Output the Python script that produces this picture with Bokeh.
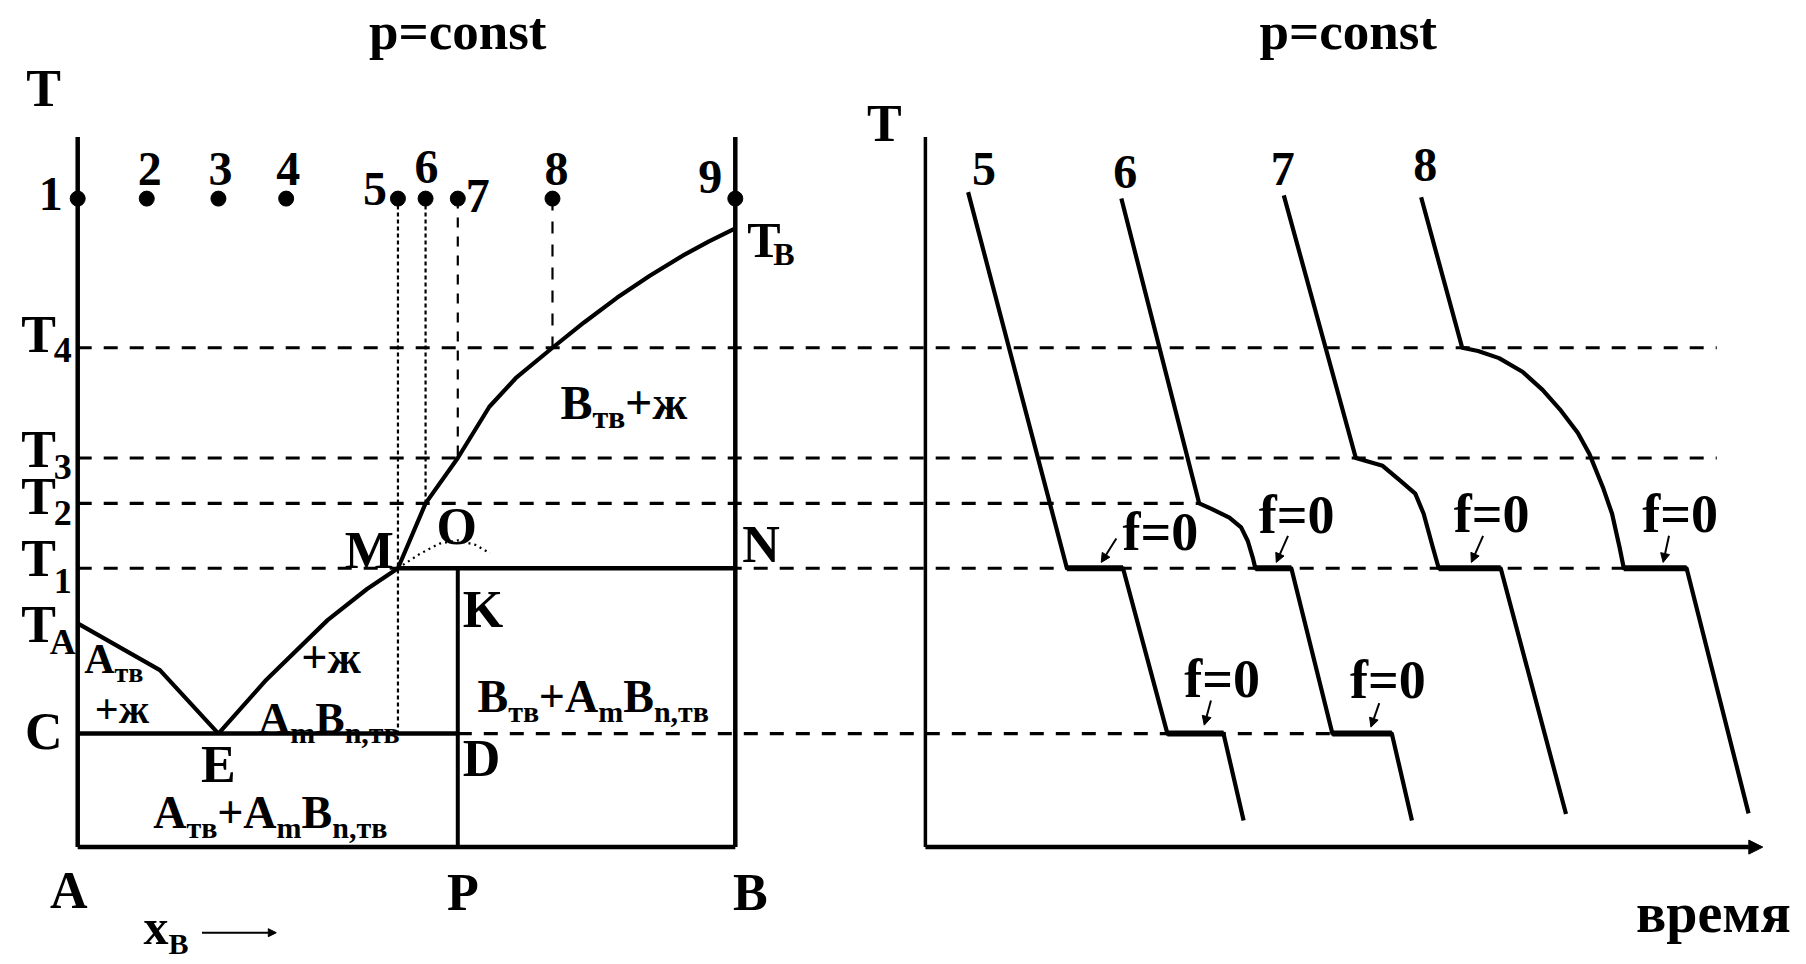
import numpy as np
from bokeh.plotting import figure
from bokeh.models import Range1d, Arrow, NormalHead
from bokeh.core.properties import value
from bokeh.embed import file_html
from bokeh.resources import INLINE

W, H = 1806, 964

# screen anchors of the two panels (px)
PX_A, PX_B = 77.2, 734.8           # x_B = 0 and x_B = 1 of the phase diagram
PX_T0, PX_PER_T = 924.9, 8.374     # origin of the time axis, px per time unit
PY_T0, PY_PER_DEG = 846.6, 6.485   # T = 0 level, px per temperature unit

# ---- temperature levels (arbitrary units) ----
T_TOP = 100.0     # figurative points 1..9
T_AXIS = 109.5    # top of the vertical axes
T_B = 95.4
T4 = 77.0
T3 = 60.0
T2 = 53.0
T1 = 43.0
T_A = 34.5
T_E = 17.5        # eutectic line C-D

# ---- compositions x_B ----
X_E = 0.214
X_M = 0.487
X_P = 0.578       # compound A_mB_n

point_x = [0.0, 0.105, 0.214, 0.317, 0.487, 0.529, 0.578, 0.722, 1.0]
point_names = ["1", "2", "3", "4", "5", "6", "7", "8", "9"]

# liquidus branches
liqA_x = [0.0, 0.125, 0.214]
liqA_T = [34.5, 27.3, 17.5]
liqB_x = [0.214, 0.285, 0.38, 0.44, 0.487, 0.529, 0.578, 0.626, 0.666, 0.722,
          0.77, 0.82, 0.87, 0.92, 0.96, 1.0]
liqB_T = [17.5, 25.6, 35.0, 39.8, 43.0, 53.0, 60.0, 67.9, 72.3, 77.0,
          80.9, 84.7, 88.1, 91.2, 93.4, 95.4]

# metastable continuation M-O
arc_x = [0.487, 0.52, 0.55, 0.578, 0.605, 0.627]
arc_T = [43.0, 45.2, 46.8, 47.3, 46.6, 45.3]

# ---- cooling curves (time, temperature) ----
curve_names = ["5", "6", "7", "8"]
c5_t = [5.1, 16.9, 23.6, 28.9, 35.6, 38.0]
c5_T = [101.0, 43.0, 43.0, 17.5, 17.5, 4.1]
c6_t = [23.4, 32.7, 34.1, 36.3, 37.7, 38.5, 39.1, 39.4, 43.7, 48.6, 55.7, 58.1]
c6_T = [100.0, 53.0, 52.2, 50.8, 49.3, 47.2, 44.6, 43.0, 43.0, 17.5, 17.5, 4.1]
c7_t = [42.8, 51.4, 54.6, 56.7, 58.5, 59.5, 60.6, 61.3, 68.7, 76.5]
c7_T = [100.5, 60.0, 58.8, 56.5, 54.5, 51.4, 46.2, 43.0, 43.0, 5.1]
c8_t = [59.2, 64.1, 66.0, 68.5, 71.3, 73.7, 75.9, 77.9, 79.3, 80.9, 82.0, 82.9, 83.4, 90.9, 98.3]
c8_T = [100.2, 77.0, 76.5, 75.4, 73.3, 70.5, 67.3, 63.9, 60.6, 55.5, 51.4, 46.2, 43.0, 43.0, 5.2]
curves_t = [c5_t, c6_t, c7_t, c8_t]
curves_T = [c5_T, c6_T, c7_T, c8_T]

T_AXIS_END = 100.0   # arrow tip of the time axis
LEVEL_END = 94.5     # right end of the T3 / T4 guide lines

# "f=0" marks: arrow tip on a halt, arrow start, label (left, baseline)
f0_tip_t = [21.0, 41.9, 65.2, 88.1, 33.3, 53.2]
f0_tip_T = [43.9, 43.9, 43.9, 43.9, 18.8, 18.5]
f0_from_t = [22.8, 43.3, 66.6, 88.8, 34.1, 54.2]
f0_from_T = [47.6, 48.0, 48.0, 48.0, 22.6, 22.2]
f0_lab_t = [23.55, 39.8, 63.1, 85.6, 30.9, 50.7]
f0_lab_T = [45.7, 48.4, 48.6, 48.6, 23.1, 22.9]

FONT = "Liberation Serif"
BASE_SHIFT = 0.34   # em, lifts texts so that y is their baseline
ADV = {'+': 0.570, ',': 0.25, '=': 0.570, 'A': 0.722, 'B': 0.667, 'T': 0.667,
       'm': 0.833, 'n': 0.556, 'x': 0.5, 'f': 0.333, 'т': 0.50, 'в': 0.52,
       'ж': 0.90, '0': 0.5, '1': 0.5, '2': 0.5, '3': 0.5, '4': 0.5}

span = PX_B - PX_A
p = figure(width=W, height=H, output_backend="svg", toolbar_location=None,
           x_range=Range1d(-PX_A / span, (W - PX_A) / span),
           y_range=Range1d(-(H - PY_T0) / PY_PER_DEG, PY_T0 / PY_PER_DEG),
           x_axis_location=None, y_axis_location=None, min_border=0,
           outline_line_color=None, background_fill_color="white",
           border_fill_color="white")
p.extra_x_ranges = {"time": Range1d(-PX_T0 / PX_PER_T, (W - PX_T0) / PX_PER_T)}
p.grid.visible = False


def t2c(t):
    """time coordinate -> composition coordinate (same screen position)"""
    return (PX_T0 + t * PX_PER_T - PX_A) / span


def put(x, y, s, size, dx=0.0, dy=0.0, align="center", rng="default"):
    p.text(x=[x], y=[y], text=[s], x_offset=dx, y_offset=dy - BASE_SHIFT * size,
           text_align=align, text_baseline="alphabetic",
           text_font=value(FONT), text_font_style="bold",
           text_font_size=f"{size}px", text_color="black", x_range_name=rng)


def put_rich(x, y, parts, size=48, sub=32, drop=9, dx=0.0, dy=0.0,
             align="left", rng="default"):
    widths = [sum(ADV.get(ch, 0.55) for ch in s) * (sub if is_sub else size)
              for s, is_sub in parts]
    total = sum(widths)
    off = dx - {"left": 0, "center": total / 2, "right": total}[align]
    for (s, is_sub), w in zip(parts, widths):
        put(x, y, s, sub if is_sub else size, dx=off,
            dy=dy + (drop if is_sub else 0), align="left", rng=rng)
        off += w


# ---------------- guide lines at the characteristic temperatures ----------
dash_levels = [T4, T3, T2, T1, T_E]
dash_from = [0.0, 0.0, 0.0, 0.0, X_P]
dash_to = [t2c(LEVEL_END), t2c(LEVEL_END), t2c(c6_t[1]), t2c(c8_t[-2]), t2c(c6_t[-2])]
for lev, a, b in zip(dash_levels, dash_from, dash_to):
    p.line([a, b], [lev, lev], line_color="black", line_width=3.2, line_dash="14 12")

# ---------------- phase diagram ------------------------------------------
# vertical cooling paths of melts 5..8
drops = [T_E] + [float(np.interp(x, liqB_x, liqB_T)) for x in point_x[5:8]]
path_dash = ["4 3", "4 3", "10 9", "12 11"]
for x, bottom, dsh in zip(point_x[4:8], drops, path_dash):
    p.line([x, x], [T_TOP, bottom], line_color="black", line_width=2.2, line_dash=dsh)

# frame: axis A, line B, bottom, compound line P
p.line([0, 0], [0, T_AXIS], line_color="black", line_width=4.5)
p.line([1, 1], [0, T_AXIS], line_color="black", line_width=4.5)
p.line([0, 1], [0, 0], line_color="black", line_width=4.5)
p.line([X_P, X_P], [0, T1], line_color="black", line_width=4)

# solidus lines C-D and M-N
p.line([0, X_P], [T_E, T_E], line_color="black", line_width=4.5)
p.line([X_M, 1], [T1, T1], line_color="black", line_width=4.5)

# liquidus
p.line(liqA_x, liqA_T, line_color="black", line_width=4.2, line_join="round")
p.line(liqB_x, liqB_T, line_color="black", line_width=4.2, line_join="round")
p.line(arc_x, arc_T, line_color="black", line_width=2.2, line_dash="2 4")

# figurative points
p.scatter(point_x, [T_TOP] * len(point_x), marker="circle", size=15,
          fill_color="black", line_color="black")

# ---------------- cooling curves -----------------------------------------
p.line([0, 0], [0, T_AXIS], line_color="black", line_width=3.5, x_range_name="time")
p.add_layout(Arrow(end=NormalHead(size=14, fill_color="black", line_color="black"),
                   x_start=0, y_start=0, x_end=T_AXIS_END, y_end=0,
                   line_color="black", line_width=4.5, x_range_name="time"))

for ts, Ts in zip(curves_t, curves_T):
    p.line(ts, Ts, line_color="black", line_width=4.2, line_join="round",
           x_range_name="time")
    # halts (f = 0) drawn heavier
    for i in range(len(Ts) - 1):
        if Ts[i] == Ts[i + 1]:
            p.line([ts[i], ts[i + 1]], [Ts[i], Ts[i]], line_color="black",
                   line_width=6, x_range_name="time")

for a, b, c, d in zip(f0_from_t, f0_from_T, f0_tip_t, f0_tip_T):
    p.add_layout(Arrow(end=NormalHead(size=9, fill_color="black", line_color="black"),
                       x_start=a, y_start=b, x_end=c, y_end=d,
                       line_color="black", line_width=2, x_range_name="time"))
for lt, lT in zip(f0_lab_t, f0_lab_T):
    put(lt, lT, "f=0", 54, align="left", rng="time")

# ---------------- texts ---------------------------------------------------
TITLE_T = 123.1
put(X_P, TITLE_T, "p=const", 53)
put(50.5, TITLE_T, "p=const", 53, rng="time")

put(0, T_AXIS, "T", 52, dx=-34, dy=-31)
put(0, T_AXIS, "T", 52, dx=-41, dy=4, rng="time")
put(T_AXIS_END, 0, "время", 56, dx=28, dy=85, align="right", rng="time")

# temperature marks on the left axis
level_marks = [(T4, "4", 4, 14), (T3, "3", 9, 21), (T2, "2", 11, 22),
               (T1, "1", 8, 25), (T_A, "A", 19, 31)]
for lev, sub, dt, ds in level_marks:
    put(0, lev, "T", 52, dx=-39, dy=dt)
    put(0, lev, sub, 36, dx=-15, dy=ds)
put(1, T_B, "T", 50, dx=12, dy=29, align="left")
put(1, T_B, "B", 32, dx=38, dy=36, align="left")

# point numbers
num_dx = [-27, 3, 2, 2, -23, 1, 20, 4, -25]
num_dy = [12, -13, -13, -13, 7, -15, 14, -13, -5]
for x, s, ddx, ddy in zip(point_x, point_names, num_dx, num_dy):
    put(x, T_TOP, s, 48, dx=ddx, dy=ddy)

# curve numbers
cur_dx = [16, 4, -1, 4]
cur_dy = [-7, -10, -10, -16]
for ts, Ts, s, ddx, ddy in zip(curves_t, curves_T, curve_names, cur_dx, cur_dy):
    put(ts[0], Ts[0], s, 48, dx=ddx, dy=ddy, rng="time")

# special points
put(0, T_E, "C", 52, dx=-34, dy=16)
put(X_E, T_E, "E", 52, dy=49)
put(X_P, T_E, "D", 52, dx=5, dy=43, align="left")
put(X_P, T1, "K", 52, dx=5, dy=59, align="left")
put(X_M, T1, "M", 52, dx=-4, dy=0, align="right")
put(arc_x[3], arc_T[3], "O", 52, dx=-1, dy=4)
put(1, T1, "N", 52, dx=7, dy=-6, align="left")
put(0, 0, "A", 52, dx=-9, dy=61)
put(X_P, 0, "P", 52, dx=5, dy=63)
put(1, 0, "B", 52, dx=15, dy=63)

# composition arrow x_B
put_rich(0.10, -14.9, [("x", False), ("B", True)], size=50, sub=30, drop=10)
p.add_layout(Arrow(end=NormalHead(size=8, fill_color="black", line_color="black"),
                   x_start=0.189, y_start=-13.2, x_end=0.302, y_end=-13.2,
                   line_color="black", line_width=2))

# phase fields
put_rich(0.734, 66.1, [("B", False), ("тв", True), ("+ж", False)])
put_rich(0.010, 26.8, [("A", False), ("тв", True)], size=42, sub=28)
put_rich(0.026, 19.1, [("+ж", False)], size=42)
put_rich(0.340, 26.8, [("+ж", False)], size=46)
put_rich(0.275, 17.5, [("A", False), ("m", True), ("B", False), ("n,тв", True)], size=44, sub=30)
put_rich(0.608, 20.8, [("B", False), ("тв", True), ("+A", False), ("m", True),
                       ("B", False), ("n,тв", True)], size=46, sub=30)
put_rich(0.115, 2.9, [("A", False), ("тв", True), ("+A", False), ("m", True),
                      ("B", False), ("n,тв", True)], size=46, sub=30)

open("out.html", "w").write(file_html(p, INLINE))
